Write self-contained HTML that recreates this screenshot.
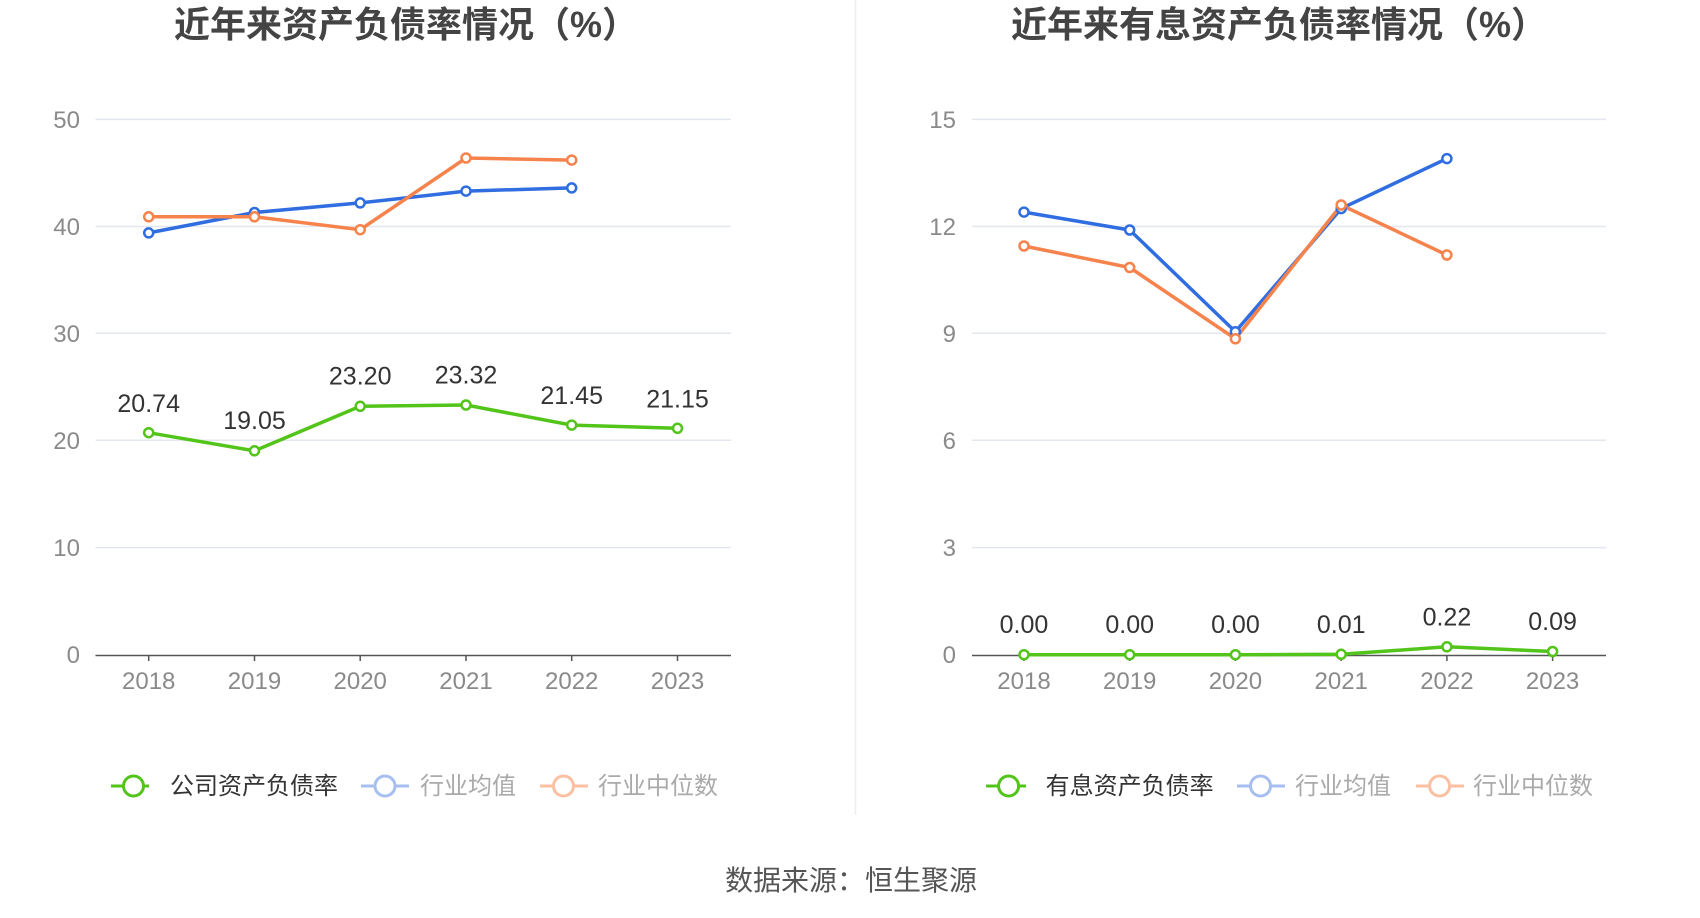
<!DOCTYPE html>
<html><head><meta charset="utf-8"><style>
body{margin:0;background:#fff;}
svg{display:block;font-family:"Liberation Sans","Noto Sans CJK SC",sans-serif;}
.t{font-size:36px;font-weight:bold;fill:#444;}
.ax{font-size:24px;fill:#8a8a8a;}
.dl{font-size:25px;fill:#333;}
.lg{font-size:24px;}
.g{stroke:#e3e7ef;stroke-width:1.5}
</style></head><body>
<svg width="1700" height="918" viewBox="0 0 1700 918">
<text class="t" x="406" y="37" text-anchor="middle">近年来资产负债率情况（%）</text>
<text class="t" x="1279" y="37" text-anchor="middle">近年来有息资产负债率情况（%）</text>
<line x1="855.5" y1="0" x2="855.5" y2="815" stroke="#eee" stroke-width="1.5"/>
<g class="g">
<line x1="95.5" y1="119.4" x2="731" y2="119.4"/><line x1="95.5" y1="226.5" x2="731" y2="226.5"/><line x1="95.5" y1="333.2" x2="731" y2="333.2"/><line x1="95.5" y1="440.2" x2="731" y2="440.2"/><line x1="95.5" y1="547.6" x2="731" y2="547.6"/>
<line x1="972" y1="119.4" x2="1606" y2="119.4"/><line x1="972" y1="226.5" x2="1606" y2="226.5"/><line x1="972" y1="333.2" x2="1606" y2="333.2"/><line x1="972" y1="440.2" x2="1606" y2="440.2"/><line x1="972" y1="547.6" x2="1606" y2="547.6"/>
</g>
<line x1="95.5" y1="655.5" x2="731" y2="655.5" stroke="#555" stroke-width="1.5"/>
<line x1="972" y1="655.5" x2="1606" y2="655.5" stroke="#555" stroke-width="1.5"/>
<g stroke="#555" stroke-width="1.5">
<line x1="148.7" y1="655" x2="148.7" y2="661"/><line x1="254.5" y1="655" x2="254.5" y2="661"/><line x1="360.2" y1="655" x2="360.2" y2="661"/><line x1="466" y1="655" x2="466" y2="661"/><line x1="571.7" y1="655" x2="571.7" y2="661"/><line x1="677.5" y1="655" x2="677.5" y2="661"/>
<line x1="1024" y1="655" x2="1024" y2="661"/><line x1="1129.7" y1="655" x2="1129.7" y2="661"/><line x1="1235.4" y1="655" x2="1235.4" y2="661"/><line x1="1341.2" y1="655" x2="1341.2" y2="661"/><line x1="1446.9" y1="655" x2="1446.9" y2="661"/><line x1="1552.6" y1="655" x2="1552.6" y2="661"/>
</g>
<g class="ax" text-anchor="end">
<text x="80" y="128">50</text><text x="80" y="235">40</text><text x="80" y="342">30</text><text x="80" y="449">20</text><text x="80" y="556">10</text><text x="80" y="663">0</text>
<text x="956" y="128">15</text><text x="956" y="235">12</text><text x="956" y="342">9</text><text x="956" y="449">6</text><text x="956" y="556">3</text><text x="956" y="663">0</text>
</g>
<g class="ax" text-anchor="middle">
<text x="148.7" y="689">2018</text><text x="254.5" y="689">2019</text><text x="360.2" y="689">2020</text><text x="466" y="689">2021</text><text x="571.7" y="689">2022</text><text x="677.5" y="689">2023</text>
<text x="1024" y="689">2018</text><text x="1129.7" y="689">2019</text><text x="1235.4" y="689">2020</text><text x="1341.2" y="689">2021</text><text x="1446.9" y="689">2022</text><text x="1552.6" y="689">2023</text>
</g>
<g fill="#fff" stroke-width="3.5">
<polyline fill="none" stroke="#2f6de1" points="148.7,232.9 254.5,212.5 360.2,202.9 466,191.1 571.7,187.9"/>
<polyline fill="none" stroke="#f6824c" points="148.7,216.8 254.5,216.8 360.2,229.7 466,158 571.7,160.1"/>
<polyline fill="none" stroke="#52c41a" points="148.7,432.7 254.5,450.8 360.2,406.3 466,405 571.7,425.1 677.5,428.3"/>
<polyline fill="none" stroke="#2f6de1" points="1024,212.1 1129.7,230 1235.4,331.7 1341.2,208.6 1446.9,158.6"/>
<polyline fill="none" stroke="#f6824c" points="1024,246 1129.7,267.5 1235.4,338.8 1341.2,205 1446.9,255"/>
<polyline fill="none" stroke="#52c41a" points="1024,654.7 1129.7,654.7 1235.4,654.7 1341.2,654.3 1446.9,646.8 1552.6,651.5"/>
<g stroke="#2f6de1" stroke-width="2.5"><circle cx="148.7" cy="232.9" r="4.5"/><circle cx="254.5" cy="212.5" r="4.5"/><circle cx="360.2" cy="202.9" r="4.5"/><circle cx="466" cy="191.1" r="4.5"/><circle cx="571.7" cy="187.9" r="4.5"/>
<circle cx="1024" cy="212.1" r="4.5"/><circle cx="1129.7" cy="230" r="4.5"/><circle cx="1235.4" cy="331.7" r="4.5"/><circle cx="1341.2" cy="208.6" r="4.5"/><circle cx="1446.9" cy="158.6" r="4.5"/></g>
<g stroke="#f6824c" stroke-width="2.5"><circle cx="148.7" cy="216.8" r="4.5"/><circle cx="254.5" cy="216.8" r="4.5"/><circle cx="360.2" cy="229.7" r="4.5"/><circle cx="466" cy="158" r="4.5"/><circle cx="571.7" cy="160.1" r="4.5"/>
<circle cx="1024" cy="246" r="4.5"/><circle cx="1129.7" cy="267.5" r="4.5"/><circle cx="1235.4" cy="338.8" r="4.5"/><circle cx="1341.2" cy="205" r="4.5"/><circle cx="1446.9" cy="255" r="4.5"/></g>
<g stroke="#52c41a" stroke-width="2.5"><circle cx="148.7" cy="432.7" r="4.5"/><circle cx="254.5" cy="450.8" r="4.5"/><circle cx="360.2" cy="406.3" r="4.5"/><circle cx="466" cy="405" r="4.5"/><circle cx="571.7" cy="425.1" r="4.5"/><circle cx="677.5" cy="428.3" r="4.5"/>
<circle cx="1024" cy="654.7" r="4.5"/><circle cx="1129.7" cy="654.7" r="4.5"/><circle cx="1235.4" cy="654.7" r="4.5"/><circle cx="1341.2" cy="654.3" r="4.5"/><circle cx="1446.9" cy="646.8" r="4.5"/><circle cx="1552.6" cy="651.5" r="4.5"/></g>
</g>
<g class="dl" text-anchor="middle">
<text x="148.7" y="412">20.74</text><text x="254.5" y="429">19.05</text><text x="360.2" y="384.5">23.20</text><text x="466" y="383.5">23.32</text><text x="571.7" y="404">21.45</text><text x="677.5" y="407.5">21.15</text>
<text x="1024" y="633">0.00</text><text x="1129.7" y="633">0.00</text><text x="1235.4" y="633">0.00</text><text x="1341.2" y="633">0.01</text><text x="1446.9" y="625.5">0.22</text><text x="1552.6" y="630">0.09</text>
</g>
<g stroke-width="3" fill="#fff">
<line x1="111" y1="786" x2="149" y2="786" stroke="#52c41a"/><circle cx="133.5" cy="786" r="10" stroke="#52c41a"/>
<line x1="361" y1="786" x2="409" y2="786" stroke="#a7bff0"/><circle cx="385" cy="786" r="10" stroke="#a7bff0"/>
<line x1="540" y1="786" x2="588" y2="786" stroke="#fbbfa2"/><circle cx="563.5" cy="786" r="10" stroke="#fbbfa2"/>
<line x1="986" y1="786" x2="1026" y2="786" stroke="#52c41a"/><circle cx="1008.6" cy="786" r="10" stroke="#52c41a"/>
<line x1="1237" y1="786" x2="1285" y2="786" stroke="#a7bff0"/><circle cx="1260.5" cy="786" r="10" stroke="#a7bff0"/>
<line x1="1416" y1="786" x2="1464" y2="786" stroke="#fbbfa2"/><circle cx="1439.6" cy="786" r="10" stroke="#fbbfa2"/>
</g>
<g class="lg">
<text x="170" y="794" fill="#333">公司资产负债率</text><text x="420" y="794" fill="#aaa">行业均值</text><text x="598" y="794" fill="#aaa">行业中位数</text>
<text x="1045.6" y="794" fill="#333">有息资产负债率</text><text x="1295" y="794" fill="#aaa">行业均值</text><text x="1473" y="794" fill="#aaa">行业中位数</text>
</g>
<text x="851" y="890" text-anchor="middle" font-size="28" fill="#555">数据来源：恒生聚源</text>
</svg>
</body></html>
